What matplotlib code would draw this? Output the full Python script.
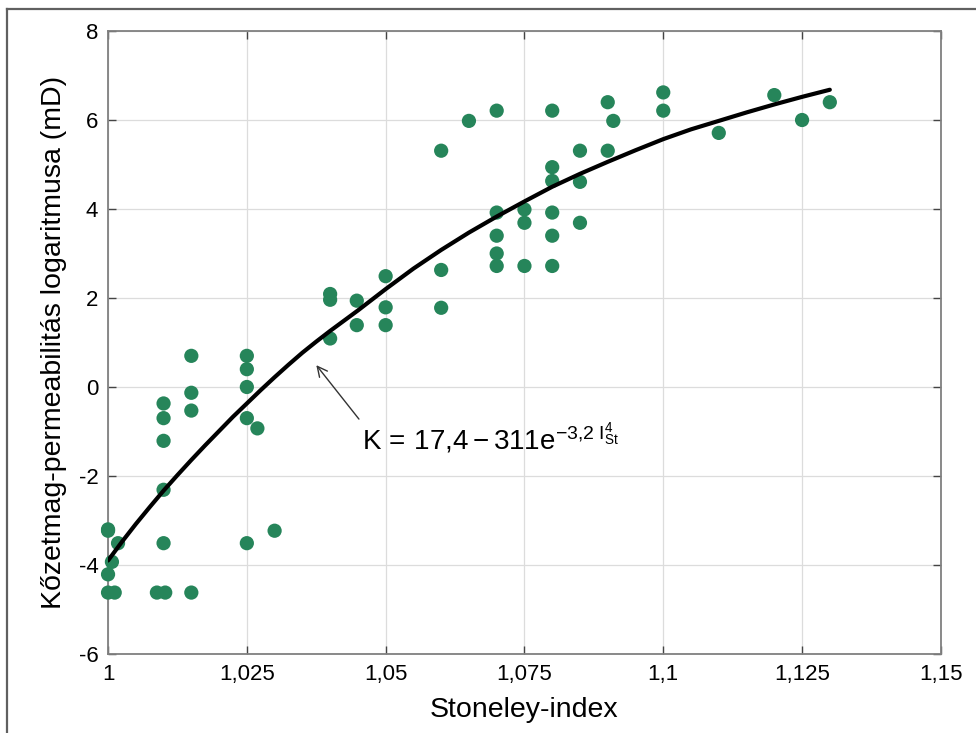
import matplotlib
matplotlib.use("Agg")
import matplotlib.pyplot as plt
from matplotlib.lines import Line2D

plt.rcParams['font.family'] = ['Liberation Sans', 'DejaVu Sans']
plt.rcParams['mathtext.fontset'] = 'custom'
plt.rcParams['mathtext.rm'] = 'Liberation Sans'
plt.rcParams['mathtext.it'] = 'Liberation Sans:italic'
plt.rcParams['axes.unicode_minus'] = False

# mért pontok (Stoneley-index, log permeabilitás)
stoneley = [1.0, 1.0, 1.0018, 1.0007, 1.0, 1.0, 1.0012,
            1.01, 1.01, 1.01, 1.01, 1.01, 1.0088, 1.0103,
            1.015, 1.015, 1.015, 1.015,
            1.025, 1.025, 1.025, 1.025, 1.0269, 1.025, 1.03,
            1.04, 1.04, 1.04, 1.0448, 1.0448,
            1.05, 1.05, 1.05,
            1.06, 1.06, 1.06, 1.065,
            1.07, 1.07, 1.07, 1.07, 1.07,
            1.075, 1.075, 1.075,
            1.08, 1.08, 1.08, 1.08, 1.08, 1.08,
            1.085, 1.085, 1.085,
            1.09, 1.091, 1.09,
            1.1, 1.1, 1.11, 1.12, 1.125, 1.13]
log_perm = [-3.2, -3.23, -3.51, -3.93, -4.21, -4.62, -4.62,
            -0.37, -0.70, -1.21, -2.31, -3.51, -4.62, -4.62,
            0.70, -0.13, -0.53, -4.62,
            0.70, 0.40, 0.0, -0.70, -0.93, -3.51, -3.23,
            2.09, 1.96, 1.09, 1.94, 1.39,
            2.49, 1.79, 1.39,
            5.31, 2.63, 1.78, 5.98,
            6.21, 3.92, 3.40, 3.00, 2.72,
            3.99, 3.69, 2.72,
            6.21, 4.94, 4.63, 3.92, 3.40, 2.72,
            5.31, 4.61, 3.69,
            6.40, 5.98, 5.31,
            6.62, 6.21, 5.71, 6.56, 6.00, 6.40]

# illesztett görbe leolvasott pontjai
fit_x = [1.0, 1.0025, 1.005, 1.0075, 1.01, 1.0125, 1.015, 1.0175, 1.02, 1.0225,
         1.025, 1.0275, 1.03, 1.0325, 1.035, 1.0375, 1.04, 1.0425, 1.045, 1.0475,
         1.05, 1.055, 1.06, 1.065, 1.07, 1.075, 1.08, 1.085, 1.09, 1.095,
         1.10, 1.105, 1.11, 1.115, 1.12, 1.125, 1.13]
fit_y = [-3.9, -3.48, -3.08, -2.70, -2.33, -1.98, -1.64, -1.31, -0.99, -0.67,
         -0.37, -0.07, 0.22, 0.50, 0.77, 1.02, 1.26, 1.49, 1.72, 1.96,
         2.2, 2.66, 3.08, 3.47, 3.83, 4.17, 4.50, 4.79, 5.06, 5.32,
         5.57, 5.79, 5.98, 6.17, 6.35, 6.52, 6.68]

x_ticks = [1.0, 1.025, 1.05, 1.075, 1.1, 1.125, 1.15]
x_labels = ['1', '1,025', '1,05', '1,075', '1,1', '1,125', '1,15']
y_ticks = [-6, -4, -2, 0, 2, 4, 6, 8]

fig = plt.figure(figsize=(9.76, 7.33), dpi=100)
ax = fig.add_axes([0.1107, 0.1078, 0.8533, 0.8499])

ax.scatter(stoneley, log_perm, s=105, color='#26855a', edgecolors='none',
           zorder=3, clip_on=False)
ax.plot(fit_x, fit_y, color='black', lw=3, solid_capstyle='round',
        solid_joinstyle='round', zorder=4)

ax.set_xlim(1.0, 1.15)
ax.set_ylim(-6, 8)
ax.set_xticks(x_ticks)
ax.set_xticklabels(x_labels)
ax.set_yticks(y_ticks)
ax.tick_params(direction='in', length=6, width=1, color='#444444',
               top=True, right=True, labelsize=16, pad=7)
ax.grid(True, color='#dcdcdc', lw=0.9)
ax.set_axisbelow(True)
for sp in ax.spines.values():
    sp.set_color('#808080')
    sp.set_linewidth(1.3)

ax.set_xlabel('Stoneley-index', fontsize=20.5, labelpad=9)
ax.set_ylabel('Kőzetmag-permeabilitás logaritmusa (mD)', fontsize=20.5, labelpad=8)

# nyíl és képlet
ax.annotate('', xy=(1.0372, 0.54), xytext=(1.0455, -0.77),
            arrowprops=dict(arrowstyle='->', color='#333333', lw=1.0,
                            mutation_scale=18))
ax.text(1.0457, -1.15, r'$\mathregular{K\,=\,17{,}4 - 311e^{-3{,}2\ I_{St}^{4}}}$',
        fontsize=20, ha='left', va='center')

# külső keret
fig.add_artist(Line2D([0.0072, 1.0], [0.9877, 0.9877], color='#606060', lw=1.6))
fig.add_artist(Line2D([0.0072, 0.0072], [0.0, 0.9877], color='#606060', lw=1.6))

fig.savefig('out.png', dpi=100)
